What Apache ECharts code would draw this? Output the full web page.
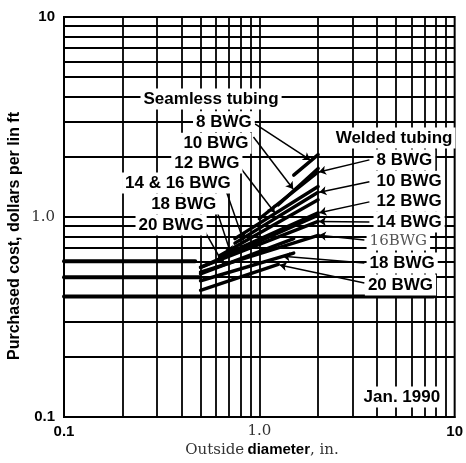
<!DOCTYPE html>
<html><head><meta charset="utf-8">
<script src="https://cdn.jsdelivr.net/npm/echarts@6/dist/echarts.min.js"></script>
<style>html,body{margin:0;padding:0;background:#fff}#c{width:466px;height:463px}</style>
</head><body><div id="c"></div>
<script>
// ---- tick labels / grid values ----
const xTickLabels = ['0.1', '1.0', '10'];
const yTickLabels = ['0.1', '1.0', '10'];
const gridValues = [0.2,0.3,0.4,0.5,0.6,0.7,0.8,0.9,1,2,3,4,5,6,7,8,9];

// ---- seamless tubing: [outside diameter in., $ per lin ft] ----
const seamless8  = [[1.5, 1.62], [2.0, 2.05]];
const seamless10 = [[1.25, 1.15], [2.0, 1.75]];
const seamless12 = [[0.75, 0.78], [2.0, 1.42]];
const seamless14_16 = [[0.625, 0.64], [2.0, 1.22]];
const seamless18 = [[0.5, 0.56], [2.0, 1.02]];
const seamless20 = [[0.5, 0.52], [1.5, 0.78]];

// ---- welded tubing ----
const welded8  = [[1.0, 0.98], [2.0, 1.68]];
const welded10 = [[0.75, 0.74], [2.0, 1.33]];
const welded12 = [[0.625, 0.63], [2.0, 1.05]];
const welded14 = [[0.5, 0.56], [2.0, 0.95]];
const welded16 = [[0.5, 0.53], [2.0, 0.81]];
const welded18 = [[0.5, 0.48], [1.5, 0.66]];
const welded20 = [[0.5, 0.43], [1.25, 0.58]];

// ---- heavy base lines ----
const base06 = [[0.1, 0.6], [0.47, 0.6]];
const base05 = [[0.1, 0.5], [0.5, 0.5]];
const base04 = [[0.1, 0.4], [7.8, 0.4]];

// ---- annotation texts ----
const seamlessTexts = ['Seamless tubing', '8 BWG', '10 BWG', '12 BWG', '14 & 16 BWG', '18 BWG', '20 BWG'];
const weldedTexts = ['Welded tubing', '8 BWG', '10 BWG', '12 BWG', '14 BWG', '16BWG', '18 BWG', '20 BWG'];
const dateText = 'Jan. 1990';
</script>
<script>
// annotation anchors (data coords, left edge of text box)
const seamlessAnchors = [[0.245,3.89],[0.455,2.99],[0.392,2.34],[0.352,1.86],[0.197,1.48],[0.268,1.16],[0.231,0.912]];
const weldedAnchors = [[2.36,2.48],[3.82,1.93],[3.82,1.51],[3.82,1.20],[3.82,0.944],[3.52,0.759],[3.52,0.589],[3.45,0.457]];
const dateAnchor = [3.28,0.126];
const leaders = [
  [[0.95,2.92],[1.82,1.93]],
  [[0.933,2.51],[1.49,1.38]],
  [[0.78,1.82],[1.2,1.05]],
  [[0.68,1.33],[0.83,0.76]],
  [[0.605,1.08],[0.713,0.66]],
  [[0.508,0.90],[0.656,0.58]],
  [[3.66,1.93],[2.02,1.68]],
  [[3.66,1.50],[2.03,1.33]],
  [[3.66,1.19],[2.03,1.05]],
  [[3.66,0.944],[2.02,0.95]],
  [[3.45,0.767],[2.02,0.81]],
  [[3.45,0.589],[1.32,0.636]],
  [[3.45,0.468],[1.27,0.575]]
];

const chart = echarts.init(document.getElementById('c'), null, {renderer:'canvas'});
function seg(d, w){
  return {type:'line', data:d, symbol:'none', showSymbol:false, silent:true, z:5,
    lineStyle:{color:'#000', width:w, cap:'round'}, animation:false};
}
const dataLines = [seamless8,seamless10,seamless12,seamless14_16,seamless18,seamless20,
  welded8,welded10,welded12,welded14,welded16,welded18,welded20].map(d=>seg(d,3.4));
const baseLines = [base06,base05,base04].map(d=>seg(d,4));

const labelStyle = {show:true, formatter:'{b}', position:'right', distance:0,
  color:'#000', fontSize:17, fontWeight:'bold', fontFamily:'Liberation Sans',
  textBorderWidth:0, backgroundColor:'#fff', padding:[2,3,2,3], opacity:1};
const labelData = [];
seamlessTexts.forEach((t,i)=>labelData.push({name:t, value:seamlessAnchors[i]}));
weldedTexts.forEach((t,i)=>{
  const item = {name:t, value:weldedAnchors[i]};
  if (t === '16BWG') item.label = {fontFamily:'DejaVu Serif', fontWeight:'normal', fontSize:15, color:'#555'};
  labelData.push(item);
});
labelData.push({name:dateText, value:dateAnchor});

function tickFmt(labels){
  return v => {
    const k = Math.round(Math.log10(v));
    if (k === 0) return '{s|' + labels[1] + '}';
    return '{b|' + (k < 0 ? labels[0] : labels[2]) + '}';
  };
}
const rich = {
  b:{fontFamily:'Liberation Sans', fontWeight:'bold', fontSize:15, color:'#000'},
  s:{fontFamily:'DejaVu Serif', fontSize:15, color:'#333'}
};

chart.setOption({
  animation:false,
  backgroundColor:'#fff',
  grid:{left:64, right:8, top:17, bottom:46, show:true, borderColor:'#000', borderWidth:2, backgroundColor:'rgba(0,0,0,0)'},
  xAxis:{type:'log', logBase:10, min:0.1, max:10,
    axisLine:{show:true, lineStyle:{color:'#000', width:2}}, axisTick:{show:false}, splitLine:{show:false},
    axisLabel:{formatter:tickFmt(xTickLabels), rich, margin:7}},
  yAxis:{type:'log', logBase:10, min:0.1, max:10,
    axisLine:{show:true, lineStyle:{color:'#000', width:2}}, axisTick:{show:false}, splitLine:{show:false},
    axisLabel:{formatter:tickFmt(yTickLabels), rich, margin:9}},
  graphic:[
    {type:'text', x:15, y:236, rotation:Math.PI/2,
      style:{text:'Purchased cost, dollars per lin ft', font:'bold 16px "Liberation Sans"', fill:'#000', align:'center', verticalAlign:'middle'}},
    {type:'text', x:262, y:450,
      style:{text:'{s|Outside} {b|diameter}{s|, in.}', align:'center', verticalAlign:'middle',
        rich:{s:{fontFamily:'DejaVu Serif', fontSize:15, fill:'#333', color:'#333'}, b:{fontFamily:'Liberation Sans', fontWeight:'bold', fontSize:15, fill:'#000', color:'#000'}}}}
  ],
  series:[
    {type:'line', data:[[1,1]], symbol:'none', lineStyle:{width:0}, silent:true, z:1,
      markLine:{silent:true, symbol:'none', animation:false, label:{show:false},
        lineStyle:{color:'#000', width:1.8, type:'solid'},
        data: gridValues.map(v=>({xAxis:v})).concat(gridValues.map(v=>({yAxis:v})))}},
    ...baseLines,
    ...dataLines,
    {type:'lines', coordinateSystem:'cartesian2d', silent:true, z:6, symbol:['none','arrow'], symbolSize:7,
      lineStyle:{color:'#000', width:1.5, opacity:1},
      data: leaders.map(l=>({coords:l}))},
    {type:'scatter', data:labelData, symbolSize:1, itemStyle:{color:'rgba(0,0,0,0)', opacity:1}, silent:true, z:10,
      label:labelStyle}
  ]
});
</script></body></html>
